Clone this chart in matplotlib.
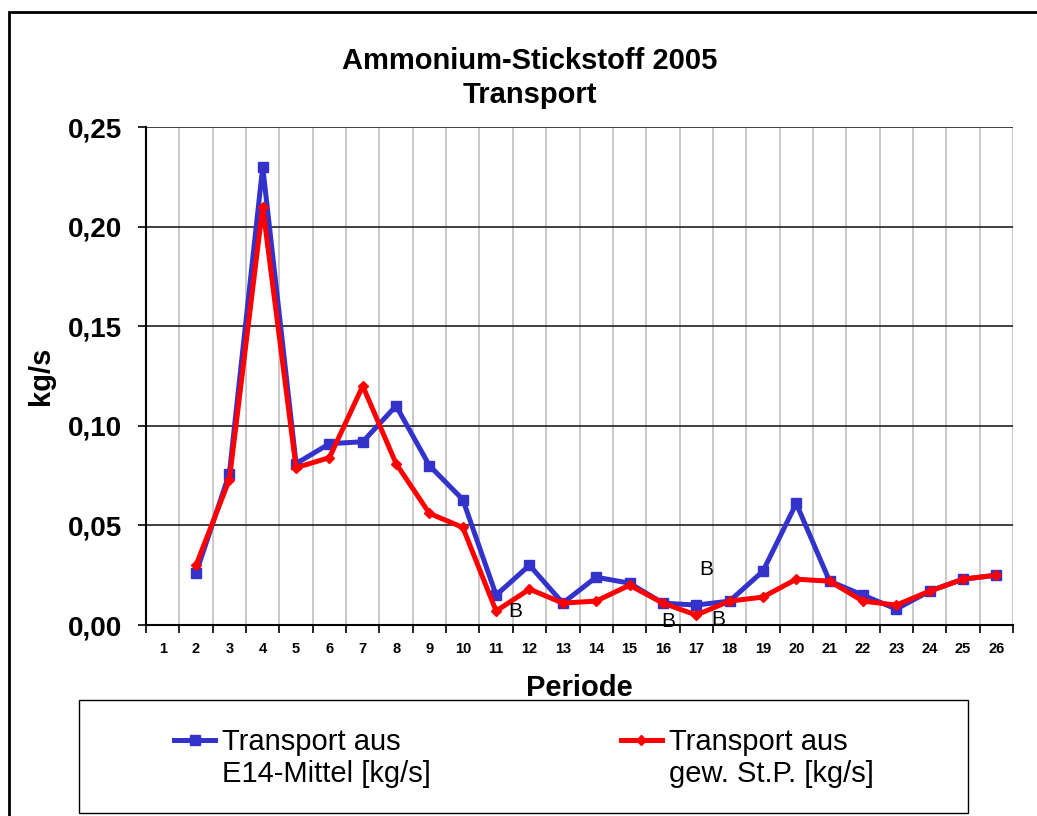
import numpy as np
import matplotlib
matplotlib.use("Agg")
import matplotlib.pyplot as plt
from matplotlib.lines import Line2D
from matplotlib.patches import Rectangle
from matplotlib.ticker import FuncFormatter

plt.rcParams['font.family'] = ['Liberation Sans', 'DejaVu Sans']

# Perioden 1..26, Periode 1 ohne Wert
perioden = np.arange(1, 27)
e14_mittel = [np.nan, 0.026, 0.076, 0.230, 0.081, 0.091, 0.092, 0.110, 0.080, 0.063,
              0.015, 0.030, 0.011, 0.024, 0.021, 0.011, 0.010, 0.012, 0.027, 0.061,
              0.022, 0.015, 0.008, 0.017, 0.023, 0.025]
gew_stp = [np.nan, 0.030, 0.073, 0.210, 0.079, 0.084, 0.120, 0.081, 0.056, 0.049,
           0.007, 0.018, 0.011, 0.012, 0.020, 0.011, 0.005, 0.012, 0.014, 0.023,
           0.022, 0.012, 0.010, 0.017, 0.023, 0.025]
label_e14 = ["Transport aus", "E14-Mittel [kg/s]"]
label_stp = ["Transport aus", "gew. St.P. [kg/s]"]

# "B"-Markierungen (Periode, Wert)
b_x = [11.57, 16.15, 17.3, 17.65]
b_y = [0.007, 0.002, 0.028, 0.003]

W, H = 1037, 816
fig = plt.figure(figsize=(W / 100, H / 100), dpi=100)
ax = fig.add_axes([146 / W, 1 - 625 / H, 867 / W, 498 / H])

l1, = ax.plot(perioden, e14_mittel, color='#3333CC', lw=3.6, marker='s', ms=7.5, zorder=3)
l2, = ax.plot(perioden, gew_stp, color='#FF0000', lw=3.6, marker='D', ms=5, zorder=4)

for bx, by in zip(b_x, b_y):
    ax.text(bx, by, "B", fontsize=15, ha='center', va='center', zorder=5)

ax.set_xlim(0.5, 26.5)
ax.set_ylim(0, 0.25)
ax.set_xticks(perioden)
ax.set_xticklabels([str(p) for p in perioden], fontsize=10.5, fontweight='bold')
ax.set_xticks(np.arange(0.5, 27, 1), minor=True)
ax.tick_params(axis='x', which='major', length=0, pad=12)
ax.tick_params(axis='x', which='minor', length=6, width=1.2, direction='out')
ax.set_yticks(np.arange(0, 0.26, 0.05))
ax.yaxis.set_major_formatter(FuncFormatter(lambda v, p: f"{v:.2f}".replace('.', ',')))
ax.tick_params(axis='y', length=6, width=1.2, direction='out', labelsize=20, pad=11)
for t in ax.get_yticklabels():
    t.set_fontweight('bold')

ax.grid(which='minor', axis='x', color='#c0c0c0', lw=1.2)
ax.grid(which='major', axis='y', color='#202020', lw=1.2)
ax.set_axisbelow(True)
for s in ['top', 'right']:
    ax.spines[s].set_visible(False)
for s in ['left', 'bottom']:
    ax.spines[s].set_linewidth(1.5)

ax.set_xlabel("Periode", fontsize=21, fontweight='bold')
ax.xaxis.set_label_coords(0.5, -0.098)
ax.set_ylabel("kg/s", fontsize=21, fontweight='bold')
ax.yaxis.set_label_coords(-0.105, 0.5)

fig.text(530 / W, 1 - 78 / H, "Ammonium-Stickstoff 2005\nTransport", fontsize=21,
         fontweight='bold', ha='center', va='center', linespacing=1.25)

# Legende: Linie neben der ersten Zeile, zweite Zeile ohne Symbol
leer = Line2D([], [], color='none')
fig.legend([l1, leer, l2, leer], label_e14 + label_stp, loc='center',
           bbox_to_anchor=(524 / W, 1 - 758 / H), ncol=2, frameon=False,
           fontsize=21, handlelength=1.4, handletextpad=0.25, columnspacing=6.5,
           labelspacing=0.15)
fig.add_artist(Rectangle((79 / W, 1 - 813 / H), (968 - 79) / W, (813 - 700) / H,
                         transform=fig.transFigure, fill=False, lw=1, ec='black'))
# äußerer Rahmen
fig.add_artist(Rectangle((9 / W, -0.1), 1.2, 1.1 - 12 / H,
                         transform=fig.transFigure, fill=False, lw=2, ec='black'))

fig.savefig("out.png", dpi=100)
